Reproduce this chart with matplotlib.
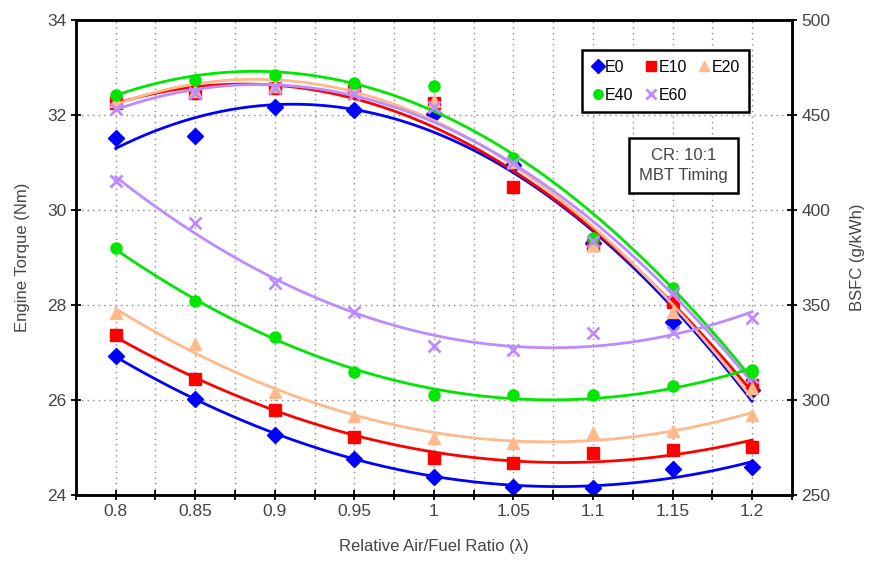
import numpy as np
import matplotlib
matplotlib.use("Agg")
import matplotlib.pyplot as plt
from matplotlib.ticker import MultipleLocator

plt.rcParams["font.family"] = ["Liberation Sans", "DejaVu Sans"]

# Relative air/fuel ratio (lambda)
lam = [0.8, 0.85, 0.9, 0.95, 1.0, 1.05, 1.1, 1.15, 1.2]
tick_labels = ["0.8", "0.85", "0.9", "0.95", "1", "1.05", "1.1", "1.15", "1.2"]

fuels = ["E0", "E10", "E20", "E40", "E60"]
colors = ["#0000ff", "#ff0000", "#ffb98a", "#00e600", "#bb8cff"]
markers = ["D", "s", "^", "o", "x"]

# Engine torque (Nm), left axis
torque_e0 = [31.52, 31.56, 32.17, 32.10, 32.02, 30.95, 29.30, 27.64, 26.20]
torque_e10 = [32.25, 32.46, 32.57, 32.50, 32.25, 30.48, 29.26, 28.06, 26.32]
torque_e20 = [32.30, 32.50, 32.60, 32.55, 32.30, 31.00, 29.25, 27.85, 26.25]
torque_e40 = [32.42, 32.74, 32.84, 32.67, 32.61, 31.09, 29.41, 28.35, 26.63]
torque_e60 = [32.13, 32.46, 32.57, 32.45, 32.17, 30.98, 29.35, 28.25, 26.49]

# BSFC (g/kWh), right axis
bsfc_e0 = [323.0, 300.5, 281.6, 268.9, 259.5, 254.2, 253.7, 263.7, 264.7]
bsfc_e10 = [334.2, 311.0, 294.7, 280.5, 269.5, 266.8, 272.0, 273.7, 275.3]
bsfc_e20 = [345.8, 329.5, 304.2, 291.6, 280.0, 277.4, 282.6, 283.7, 292.1]
bsfc_e40 = [380.0, 352.1, 333.2, 314.7, 302.6, 302.6, 302.6, 307.4, 314.7]
bsfc_e60 = [415.3, 393.2, 361.6, 346.3, 328.4, 326.3, 335.3, 335.8, 343.2]

torques = [torque_e0, torque_e10, torque_e20, torque_e40, torque_e60]
bsfcs = [bsfc_e0, bsfc_e10, bsfc_e20, bsfc_e40, bsfc_e60]

fig = plt.figure(figsize=(8.73, 5.70), dpi=100)
ax = fig.add_axes([0.087, 0.132, 0.820, 0.833])
ax2 = ax.twinx()

x_fit = np.linspace(lam[0], lam[-1], 200)
handles = []
for name, c, m, tq, bs in zip(fuels, colors, markers, torques, bsfcs):
    mw = 2.0 if m == "x" else 1.0
    ms = 9 if m == "x" else 8
    # quadratic trend lines through the measured points
    ax.plot(x_fit, np.polyval(np.polyfit(lam, tq, 2), x_fit), color=c, lw=2)
    ax2.plot(x_fit, np.polyval(np.polyfit(lam, bs, 2), x_fit), color=c, lw=2)
    h, = ax.plot(lam, tq, ls="none", marker=m, color=c, ms=ms, mew=mw, label=name)
    ax2.plot(lam, bs, ls="none", marker=m, color=c, ms=ms, mew=mw)
    handles.append(h)

ax.set_xlim(0.775, 1.225)
ax.set_ylim(24, 34)
ax2.set_ylim(250, 500)
ax.set_xticks(lam)
ax.set_xticklabels(tick_labels)
ax.xaxis.set_minor_locator(MultipleLocator(0.025))
ax.set_yticks(range(24, 35, 2))
ax2.set_yticks(range(250, 501, 50))

ax.grid(True, which="both", axis="x", ls=(0, (1, 3)), color="#888888", lw=1)
ax.grid(True, which="major", axis="y", ls=(0, (1, 3)), color="#888888", lw=1)

for a in (ax, ax2):
    for s in a.spines.values():
        s.set_linewidth(1.8)
    a.tick_params(which="both", direction="inout", length=7, width=1.3,
                  labelsize=12.5, colors="black", labelcolor="#444444")

ax.set_xlabel("Relative Air/Fuel Ratio (λ)", fontsize=12, color="#444444", labelpad=14)
ax.set_ylabel("Engine Torque (Nm)", fontsize=12, color="#444444", labelpad=12)
ax2.set_ylabel("BSFC (g/kWh)", fontsize=12, color="#444444", labelpad=14)

# legend filled row-wise: E0 E10 E20 / E40 E60
order = [0, 3, 1, 4, 2]
leg = ax.legend([handles[i] for i in order], [fuels[i] for i in order],
                ncol=3, loc="upper right", bbox_to_anchor=(0.952, 0.953),
                fancybox=False, framealpha=1, edgecolor="black",
                fontsize=11.5, handletextpad=0.05, columnspacing=0.7,
                handlelength=0.8, borderpad=0.6, labelspacing=0.8,
                markerscale=0.85)
leg.get_frame().set_linewidth(1.8)
leg.set_zorder(5)

ax2.text(0.849, 0.693, "CR: 10:1\nMBT Timing", transform=ax.transAxes,
         ha="center", va="center", fontsize=12, color="#444444", linespacing=1.4,
         bbox=dict(boxstyle="square,pad=0.6", fc="white", ec="black", lw=1.8))

fig.savefig("out.png", dpi=100)
